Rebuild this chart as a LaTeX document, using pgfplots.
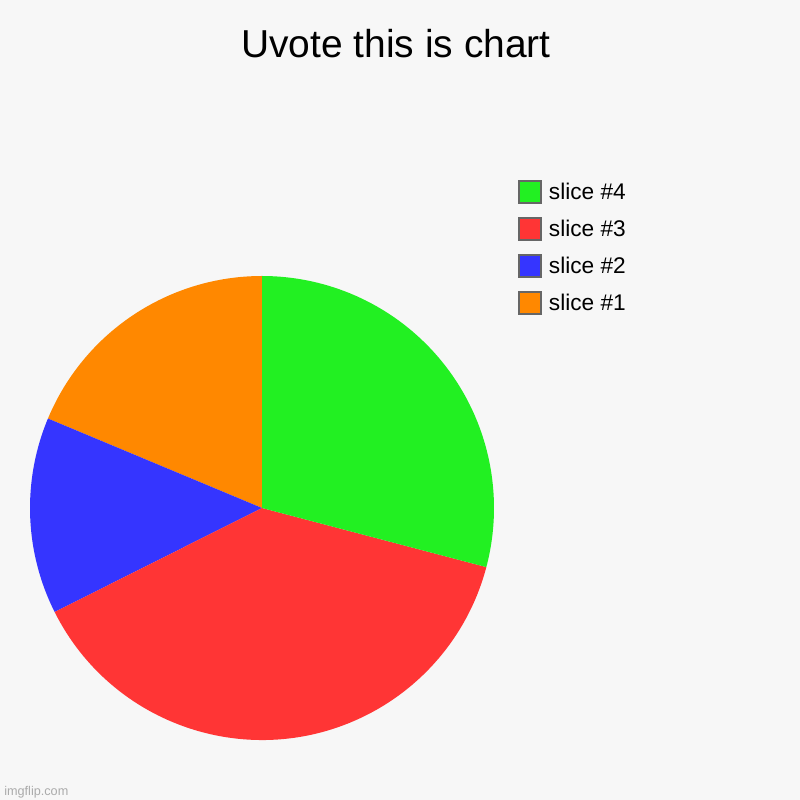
\documentclass[border=0pt]{standalone}
\usepackage{pgfplots}
\usepackage{pgfplotstable}
\pgfplotsset{compat=1.18}
\usepackage{fontspec}
\setmainfont{Liberation Sans}

\definecolor{bg}{HTML}{F7F7F7}
\definecolor{sliceA}{HTML}{FF8800}
\definecolor{sliceB}{HTML}{3535FF}
\definecolor{sliceC}{HTML}{FF3535}
\definecolor{sliceD}{HTML}{22F022}
\definecolor{legendedge}{HTML}{666666}

% slice shares (percent)
\pgfplotstableread{
slice value
1 18.7
2 13.7
3 38.5
4 29.1
}\slices

\pgfplotstablegetelem{0}{value}\of\slices \let\va\pgfplotsretval
\pgfplotstablegetelem{1}{value}\of\slices \let\vb\pgfplotsretval
\pgfplotstablegetelem{2}{value}\of\slices \let\vc\pgfplotsretval
\pgfplotstablegetelem{3}{value}\of\slices \let\vd\pgfplotsretval
\pgfmathsetmacro\total{\va+\vb+\vc+\vd}
% cumulative angles, counter-clockwise from 12 o'clock
\pgfmathsetmacro\aA{90+360*\va/\total}
\pgfmathsetmacro\aB{\aA+360*\vb/\total}
\pgfmathsetmacro\aC{\aB+360*\vc/\total}
\def\aD{450}
\def\R{174bp}

\begin{document}
\begin{tikzpicture}
\fill[bg] (0,0) rectangle (600bp,600bp);
\begin{axis}[
    at={(0,0)}, anchor=south west,
    scale only axis, width=600bp, height=600bp,
    xmin=0, xmax=800, ymin=0, ymax=800,
    hide axis, clip=false,
    legend image code/.code={
        \draw[#1, draw=legendedge, line width=1.5bp] (0.75bp,-8.25bp) rectangle (17.25bp,8.25bp);
    },
    legend cell align=left,
    legend style={
        at={(axis cs:518,620)}, anchor=north west,
        draw=none, fill=none, inner sep=0pt,
        nodes={inner sep=0pt, font=\fontsize{17bp}{20bp}\selectfont},
        row sep=9.75bp, column sep=5bp,
    },
]
\fill[sliceA] (axis cs:262,292) -- +(90:\R) arc[start angle=90, end angle=\aA, radius=\R] -- cycle;
\fill[sliceB] (axis cs:262,292) -- +(\aA:\R) arc[start angle=\aA, end angle=\aB, radius=\R] -- cycle;
\fill[sliceC] (axis cs:262,292) -- +(\aB:\R) arc[start angle=\aB, end angle=\aC, radius=\R] -- cycle;
\fill[sliceD] (axis cs:262,292) -- +(\aC:\R) arc[start angle=\aC, end angle=\aD, radius=\R] -- cycle;

\addlegendimage{fill=sliceD}
\addlegendentry{slice \#4}
\addlegendimage{fill=sliceC}
\addlegendentry{slice \#3}
\addlegendimage{fill=sliceB}
\addlegendentry{slice \#2}
\addlegendimage{fill=sliceA}
\addlegendentry{slice \#1}

\node[anchor=base, font=\fontsize{29.2bp}{35bp}\selectfont] at (axis cs:396,742) {Uvote this is chart};
\node[anchor=base west, inner sep=0pt, text=black!33, font=\fontsize{9.5bp}{11bp}\selectfont] at (axis cs:4,5) {imgflip.com};
\end{axis}
\end{tikzpicture}
\end{document}
